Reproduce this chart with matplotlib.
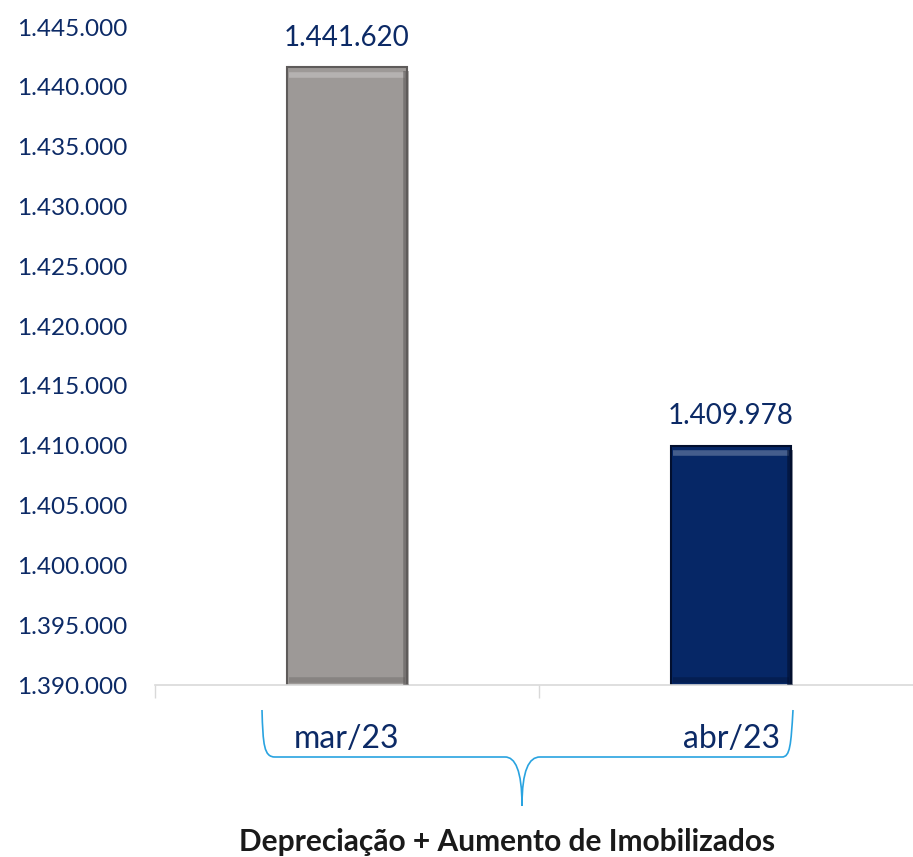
import matplotlib.pyplot as plt
from matplotlib.path import Path
from matplotlib.patches import PathPatch
import numpy as np

# chart data
categories = ['mar/23', 'abr/23']
values = [1441620, 1409978]
value_labels = ['1.441.620', '1.409.978']
bar_colors = ['#9d9997', '#062766']
edge_colors = ['#5e5b5a', '#020f2e']
y_ticks = np.arange(1390000, 1445001, 5000)
title = 'Depreciação + Aumento de Imobilizados'

navy = '#0c2a66'
plt.rcParams['font.family'] = ['Lato', 'DejaVu Sans']

W, H = 913, 857
fig = plt.figure(figsize=(W / 100, H / 100), dpi=100)
# axes spans from x=155px to beyond the right border, baseline at y=685px
ax = fig.add_axes([155 / W, 1 - 685 / H, 768 / W, (685 - 27) / H])

x = np.arange(len(categories))
bars = ax.bar(x, values, width=0.315, color=bar_colors, edgecolor=edge_colors,
              linewidth=1.5, zorder=2)
# bevel look: light band on top, darker bands on right side and bottom
for b, v, ec in zip(bars, values, edge_colors):
    x0 = b.get_x()
    x1 = x0 + b.get_width()
    ax.plot([x0 + 0.006, x1 - 0.006], [v - 600, v - 600],
            color='white', alpha=0.25, linewidth=4, zorder=3, solid_capstyle='butt')
    ax.plot([x1 - 0.005, x1 - 0.005], [1390000, v - 300],
            color=ec, alpha=0.6, linewidth=4, zorder=3, solid_capstyle='butt')
    ax.plot([x0 + 0.006, x1 - 0.006], [1390000 + 400, 1390000 + 400],
            color=ec, alpha=0.35, linewidth=4, zorder=3, solid_capstyle='butt')

for xi, v, lab in zip(x, values, value_labels):
    ax.annotate(lab, (xi, v), xytext=(0, 12), textcoords='offset points',
                ha='center', va='bottom', fontsize=20, color=navy)

ax.set_xlim(-0.5, 1.5)
ax.set_ylim(1390000, 1445000)
ax.set_yticks(y_ticks)
ax.set_yticklabels(['{:,}'.format(t).replace(',', '.') for t in y_ticks])
ax.tick_params(axis='y', length=0, labelsize=17.5, labelcolor=navy, pad=20)

ax.set_xticks(x)
ax.set_xticklabels(categories)
ax.tick_params(axis='x', which='major', length=0, labelsize=23, labelcolor=navy, pad=28)
ax.set_xticks([-0.5, 0.5, 1.5], minor=True)
ax.tick_params(axis='x', which='minor', length=9, color='#d9d9d9', width=1)

for s in ['top', 'right', 'left']:
    ax.spines[s].set_visible(False)
ax.spines['bottom'].set_color('#d9d9d9')
ax.spines['bottom'].set_linewidth(1.2)

# curly brace under the category labels (figure pixel coords, y from top)
def px(xp, yp):
    return (xp / W, 1 - yp / H)

verts = [px(262, 710), px(263, 745), px(264, 757), px(275, 757),
         px(505, 757),
         px(515, 757), px(522, 770), px(522, 806),
         px(522, 770), px(529, 757), px(540, 757),
         px(782, 757),
         px(790, 757), px(791, 745), px(793, 710)]
codes = [Path.MOVETO, Path.CURVE4, Path.CURVE4, Path.CURVE4,
         Path.LINETO,
         Path.CURVE4, Path.CURVE4, Path.CURVE4,
         Path.CURVE4, Path.CURVE4, Path.CURVE4,
         Path.LINETO,
         Path.CURVE4, Path.CURVE4, Path.CURVE4]
fig.patches.append(PathPatch(Path(verts, codes), transform=fig.transFigure,
                             facecolor='none', edgecolor='#29a3e0', linewidth=1.2))

fig.text(507 / W, 1 - 842 / H, title, ha='center', va='center',
         fontsize=21.5, fontweight='bold', color='#1a1a1a')

fig.savefig('out.png', dpi=100)
